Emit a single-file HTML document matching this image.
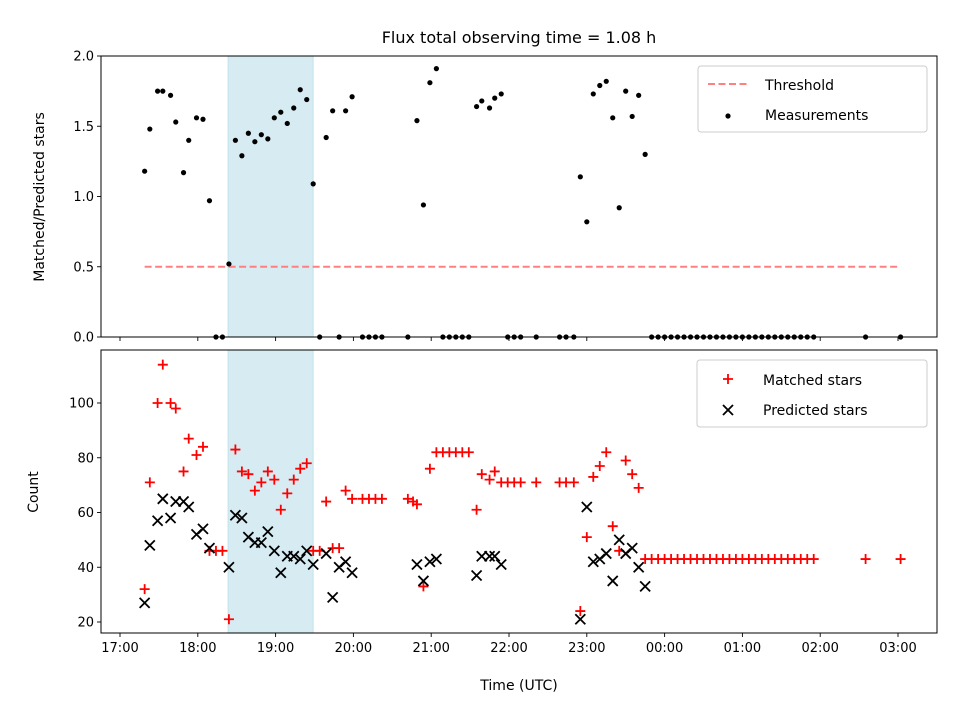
<!DOCTYPE html>
<html><head><meta charset="utf-8"><style>
html,body{margin:0;padding:0;background:#fff;}
svg{display:block;font-family:"DejaVu Sans","Liberation Sans",sans-serif;}
</style></head><body>
<svg id="chart" width="960" height="720" viewBox="0 0 960 720" xmlns="http://www.w3.org/2000/svg">
<text x="519" y="43" font-size="16" text-anchor="middle">Flux total observing time = 1.08 h</text>
<g id="topPanel"></g>
<g id="botPanel"></g>
<text transform="translate(44,197) rotate(-90)" font-size="14" text-anchor="middle">Matched/Predicted stars</text>
<text transform="translate(38,492) rotate(-90)" font-size="14" text-anchor="middle">Count</text>
<text x="519" y="690" font-size="14" text-anchor="middle">Time (UTC)</text>
</svg>
<script>
// minutes after 17:00 UTC
const times=[19,23,29,33,39,43,49,53,59,64,69,74,79,84,89,94,99,104,109,114,119,124,129,134,139,144,149,154,159,164,169,174,179,187,192,197,202,222,226,229,234,239,244,249,254,259,264,269,275,279,285,289,294,299,304,309,321,339,344,350,355,360,365,370,375,380,385,390,395,400,405,410,415,420,425,430,435,440,445,450,455,460,465,470,475,480,485,490,495,500,505,510,515,520,525,530,535,575,602];
const ratio=[1.18,1.48,1.75,1.75,1.72,1.53,1.17,1.40,1.56,1.55,0.97,0,0,0.52,1.40,1.29,1.45,1.39,1.44,1.41,1.56,1.60,1.52,1.63,1.76,1.69,1.09,0,1.42,1.61,0,1.61,1.71,0,0,0,0,0,null,1.54,0.94,1.81,1.91,0,0,0,0,0,1.64,1.68,1.63,1.70,1.73,0,0,0,0,0,0,0,1.14,0.82,1.73,1.79,1.82,1.56,0.92,1.75,1.57,1.72,1.30,0,0,0,0,0,0,0,0,0,0,0,0,0,0,0,0,0,0,0,0,0,0,0,0,0,0,0,0];
const matched=[32,71,100,114,100,98,75,87,81,84,46,46,46,21,83,75,74,68,71,75,72,61,67,72,76,78,46,46,64,47,47,68,65,65,65,65,65,65,64,63,33,76,82,82,82,82,82,82,61,74,72,75,71,71,71,71,71,71,71,71,24,51,73,77,82,55,46,79,74,69,43,43,43,43,43,43,43,43,43,43,43,43,43,43,43,43,43,43,43,43,43,43,43,43,43,43,43,43,43];
const predicted=[27,48,57,65,58,64,64,62,52,54,47,null,null,40,59,58,51,49,49,53,46,38,44,44,43,46,41,null,45,29,40,42,38,null,null,null,null,null,null,41,35,42,43,null,null,null,null,null,37,44,44,44,41,null,null,null,null,null,null,null,21,62,42,43,45,35,50,45,47,40,33,null,null,null,null,null,null,null,null,null,null,null,null,null,null,null,null,null,null,null,null,null,null,null,null,null,null,null,null];
const threshold=0.5;
const shadeStart=83.3, shadeEnd=149;
const xTickLabels=["17:00","18:00","19:00","20:00","21:00","22:00","23:00","00:00","01:00","02:00","03:00"];
const topTicks=[0,0.5,1.0,1.5,2.0];
const botTicks=[20,40,60,80,100];

const NS="http://www.w3.org/2000/svg";
const L=101,R=937;
const xs=t=>120+(t/60)*77.8;
const yTop=v=>337-v*140.5;
const yBot=v=>622-(v-20)*2.7375;
function mk(p,tag,attrs){const e=document.createElementNS(NS,tag);for(const k in attrs)e.setAttribute(k,attrs[k]);p.appendChild(e);return e;}

function panel(g,y0,y1,yfun,ticks,fmt,labelsX){
  const s=mk(g,'rect',{x:xs(shadeStart),y:y0,width:xs(shadeEnd)-xs(shadeStart),height:y1-y0,fill:'#add8e6','fill-opacity':0.5,stroke:'#add8e6','stroke-opacity':0.6});
  
  
  ticks.forEach(v=>{
    const y=yfun(v);
    mk(g,'line',{x1:L-4,x2:L,y1:y,y2:y,stroke:'#000','stroke-width':0.9});
    const t=mk(g,'text',{x:L-7,y:y+4.5,'font-size':13,'text-anchor':'end'});
    t.textContent=fmt(v);
    
    
  });
  xTickLabels.forEach((lab,i)=>{
    const x=xs(i*60);
    mk(g,'line',{x1:x,x2:x,y1:y1,y2:y1+4,stroke:'#000','stroke-width':0.9});
    if(labelsX){const t=mk(g,'text',{x:x,y:y1+19,'font-size':13,'text-anchor':'middle'});t.textContent=lab;
      
      }
  });
}
function frame(g,y0,y1){mk(g,'rect',{x:L,y:y0,width:R-L,height:y1-y0,fill:'none',stroke:'#000','stroke-width':1});}

const topG=document.getElementById('topPanel');
panel(topG,56,337,yTop,topTicks,v=>v.toFixed(1),false);
const th=mk(topG,'line',{x1:xs(times[0]),x2:xs(times[times.length-1]),y1:yTop(threshold),y2:yTop(threshold),stroke:'#ff8080','stroke-width':2,'stroke-dasharray':'7,3.5'});


times.forEach((t,i)=>{ if(ratio[i]===null)return;
  const c=mk(topG,'circle',{cx:xs(t),cy:yTop(ratio[i]),r:2.6,fill:'#000'});
  
  
});
frame(topG,56,337);
const lg=mk(topG,'g',{});


mk(lg,'rect',{x:698,y:66,width:229,height:66,rx:3,fill:'#fff','fill-opacity':0.8,stroke:'#ccc'});
mk(lg,'line',{x1:708,x2:748,y1:84,y2:84,stroke:'#ff8080','stroke-width':2,'stroke-dasharray':'7,3.5'});
let t1=mk(lg,'text',{x:765,y:90,'font-size':14});t1.textContent='Threshold';
mk(lg,'circle',{cx:728,cy:116,r:2.6,fill:'#000'});
let t2=mk(lg,'text',{x:765,y:120,'font-size':14});t2.textContent='Measurements';

const botG=document.getElementById('botPanel');
panel(botG,350,633,yBot,botTicks,v=>String(v),true);
times.forEach((t,i)=>{
  const x=xs(t),y=yBot(matched[i]);
  const p=mk(botG,'path',{d:`M${x-5},${y}H${x+5}M${x},${y-5}V${y+5}`,stroke:'#ff0000','stroke-width':1.8,fill:'none'});
  
  
});
times.forEach((t,i)=>{ if(predicted[i]===null)return;
  const x=xs(t),y=yBot(predicted[i]);
  const p=mk(botG,'path',{d:`M${x-5},${y-5}L${x+5},${y+5}M${x-5},${y+5}L${x+5},${y-5}`,stroke:'#000','stroke-width':1.8,fill:'none'});
  
  
});
frame(botG,350,633);
const lg2=mk(botG,'g',{});


mk(lg2,'rect',{x:697,y:360,width:230,height:67,rx:3,fill:'#fff','fill-opacity':0.8,stroke:'#ccc'});
mk(lg2,'path',{d:'M723,379H733M728,374V384',stroke:'#ff0000','stroke-width':1.8});
let t3=mk(lg2,'text',{x:763,y:385,'font-size':14});t3.textContent='Matched stars';
mk(lg2,'path',{d:'M723,405L733,415M723,415L733,405',stroke:'#000','stroke-width':1.8});
let t4=mk(lg2,'text',{x:763,y:415,'font-size':14});t4.textContent='Predicted stars';
</script>
</body></html>
